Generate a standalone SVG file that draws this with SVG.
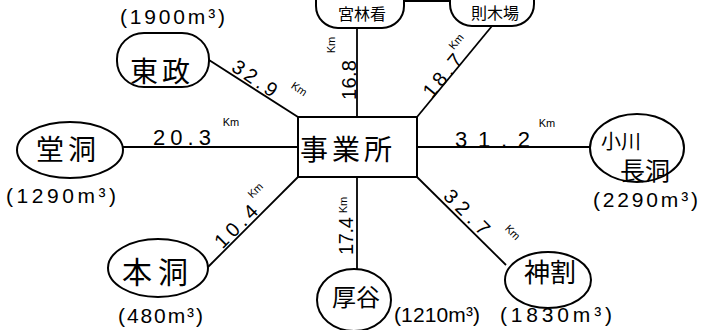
<svg xmlns="http://www.w3.org/2000/svg" width="702" height="330" viewBox="0 0 702 330">
<style>
.bg{fill:#fff}
.shape{fill:#fff;stroke:#000;stroke-width:2}
.conn line{stroke:#000;stroke-width:1.8}
.jp{font-family:"Noto Sans CJK JP","Noto Sans",sans-serif;fill:#000;text-anchor:middle}
.num{font-family:"Liberation Sans","DejaVu Sans",sans-serif;fill:#000;font-size:20px;text-anchor:middle}
.km{font-family:"Liberation Sans","DejaVu Sans",sans-serif;fill:#000;font-size:11px;text-anchor:middle}
.cap{font-family:"Liberation Sans","DejaVu Sans",sans-serif;fill:#000;font-size:21px}
</style>
<rect class="bg" width="702" height="330"/>
<g id="connectors" class="conn">
<line x1="298" y1="117" x2="209" y2="60"/>
<line x1="357" y1="117" x2="357" y2="28"/>
<line x1="417" y1="117" x2="492" y2="26"/>
<line x1="298" y1="147" x2="123" y2="147"/>
<line x1="417" y1="147" x2="590" y2="147"/>
<line x1="298" y1="177" x2="208" y2="267"/>
<line x1="357" y1="177" x2="357" y2="270"/>
<line x1="417" y1="177" x2="506" y2="265"/>
<line x1="404" y1="1" x2="450" y2="1"/>
</g>
<g id="labels">
<text class="num" x="251" y="84" textLength="50" transform="rotate(34 251 84)">32.9</text>
<text class="km" x="297" y="92" transform="rotate(34 297 92)">Km</text>
<text class="num" x="356" y="80" textLength="40" transform="rotate(-90 356 80)">16.8</text>
<text class="km" x="335" y="45" transform="rotate(-90 335 45)">Km</text>
<text class="num" x="448" y="80" textLength="50" transform="rotate(-50.5 448 80)">18.7</text>
<text class="km" x="459" y="44" transform="rotate(-50.5 459 44)">Km</text>
<text class="num" x="153" y="145" textLength="58" style="text-anchor:start;font-size:22px">20.3</text>
<text class="km" x="231" y="126">Km</text>
<text class="num" x="455" y="147" textLength="75" style="text-anchor:start;font-size:22px">31.2</text>
<text class="km" x="547" y="127">Km</text>
<text class="num" x="241" y="231" textLength="52" transform="rotate(-45 241 231)">10.4</text>
<text class="km" x="258" y="193" transform="rotate(-45 258 193)">Km</text>
<text class="num" x="353" y="236" textLength="38" transform="rotate(-90 353 236)">17.4</text>
<text class="km" x="347" y="205" transform="rotate(-90 347 205)">Km</text>
<text class="num" x="462" y="217" textLength="56" transform="rotate(45 462 217)">32.7</text>
<text class="km" x="510" y="235" transform="rotate(45 510 235)">Km</text>
</g>
<g id="center">
<rect class="shape" x="298" y="117" width="119" height="60"/>
<text class="jp" x="348" y="160" font-size="28" letter-spacing="4">事業所</text>
</g>
<g id="node-tousei">
<rect class="shape" x="117" y="33" width="92" height="54" rx="27" ry="26"/>
<text class="jp" x="162" y="82" font-size="28" letter-spacing="4">東政</text>
<text class="cap" x="120" y="24" textLength="105">(1900m³)</text>
</g>
<g id="node-miyabayashi">
<rect class="shape" x="316" y="-30" width="88" height="58" rx="22"/>
<text class="jp" x="362" y="20" font-size="16">宮林看</text>
</g>
<g id="node-kiba">
<rect class="shape" x="450" y="-30" width="84" height="56" rx="22"/>
<text class="jp" x="495" y="19" font-size="16">則木場</text>
</g>
<g id="node-dodo">
<ellipse class="shape" cx="70" cy="150" rx="53" ry="28"/>
<text class="jp" x="68" y="160" font-size="28" letter-spacing="4">堂洞</text>
<text class="cap" x="6" y="203" textLength="110">(1290m³)</text>
</g>
<g id="node-ogawa">
<ellipse class="shape" cx="637" cy="148" rx="47" ry="34"/>
<text class="jp" x="621" y="149" font-size="20">小川</text>
<text class="jp" x="645" y="180" font-size="25">長洞</text>
<text class="cap" x="593" y="207" textLength="105">(2290m³)</text>
</g>
<g id="node-hondo">
<ellipse class="shape" cx="158" cy="268" rx="50" ry="29"/>
<text class="jp" x="158" y="283" font-size="30" letter-spacing="6">本洞</text>
<text class="cap" x="118" y="323" textLength="85">(480m³)</text>
</g>
<g id="node-atsuya">
<ellipse class="shape" cx="354" cy="300" rx="37" ry="31"/>
<text class="jp" x="356" y="306" font-size="24">厚谷</text>
<text class="cap" x="394" y="322" textLength="86">(1210m³)</text>
</g>
<g id="node-kanwari">
<ellipse class="shape" cx="548" cy="280" rx="43" ry="28"/>
<text class="jp" x="550" y="282" font-size="26">神割</text>
<text class="cap" x="500" y="322" textLength="112">(1830m³)</text>
</g>
</svg>
